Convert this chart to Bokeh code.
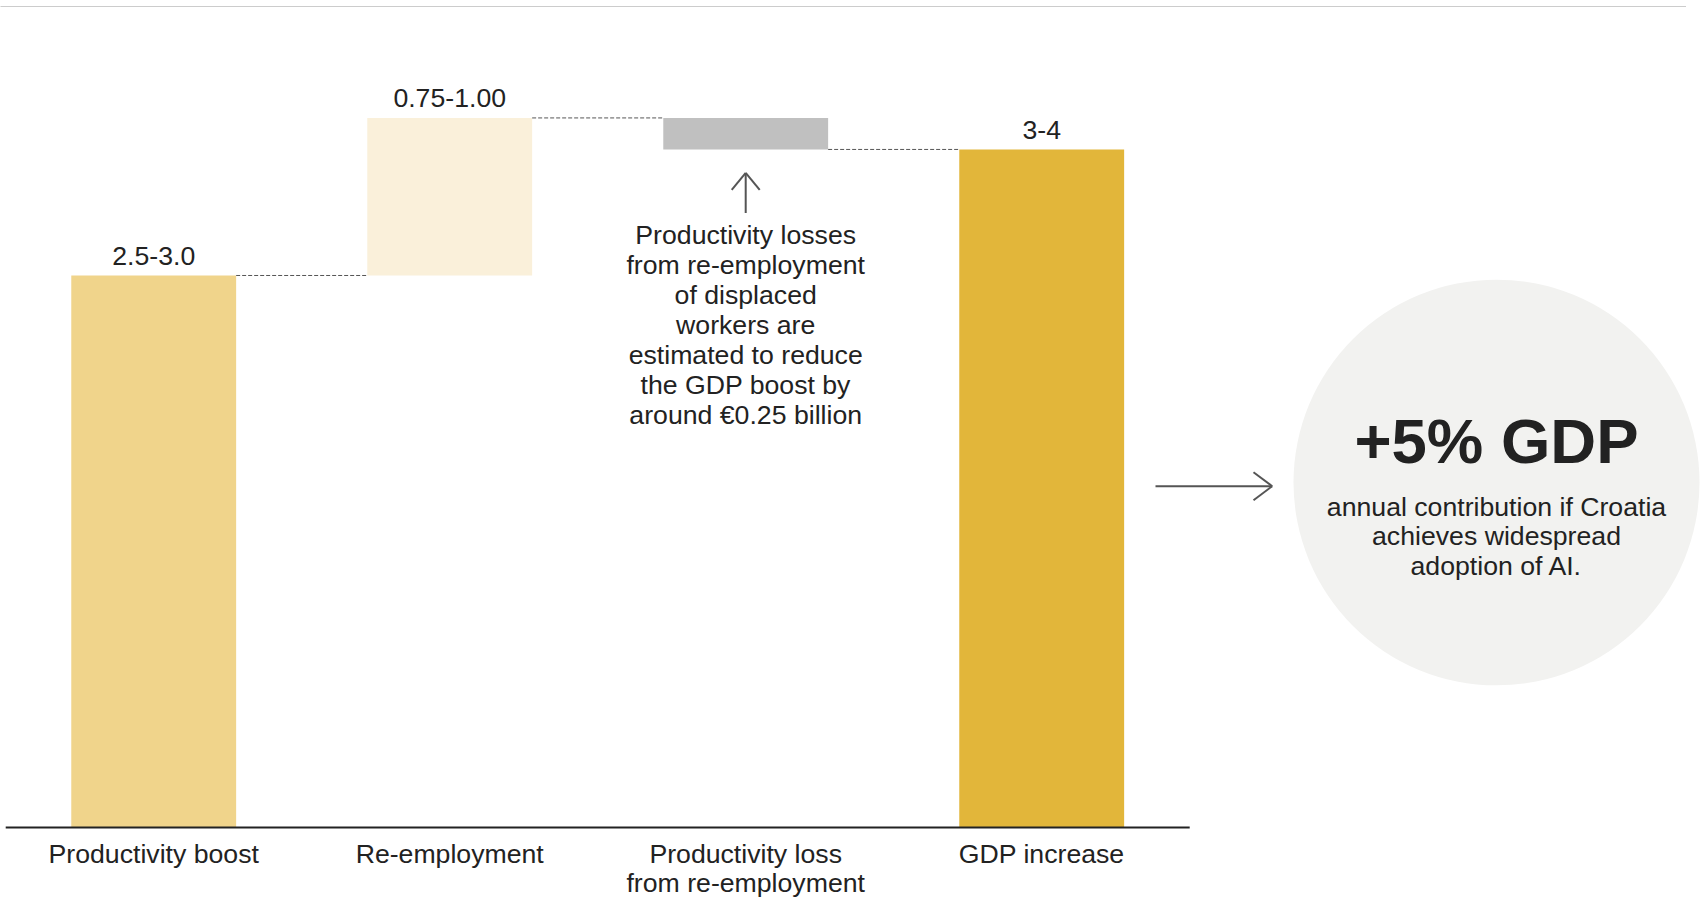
from bokeh.plotting import figure
from bokeh.models import Range1d, ColumnDataSource
from bokeh.core.properties import value
from bokeh.embed import file_html
from bokeh.resources import INLINE

# ---------------- data ----------------
categories = ["Productivity boost", "Re-employment",
              "Productivity loss\nfrom re-employment", "GDP increase"]
steps = [2.75, 0.785, -0.157]          # waterfall steps (€ billion)
value_labels = ["2.5-3.0", "0.75-1.00", "", "3-4"]
bar_colors = ["#F0D48B", "#FAF0DA", "#C0C0C0", "#E2B63A"]
note_lines = ["Productivity losses", "from re-employment", "of displaced",
              "workers are", "estimated to reduce", "the GDP boost by",
              "around €0.25 billion"]
headline = "+5% GDP"
sub_lines = ["annual contribution if Croatia", "achieves widespread",
             "adoption of AI."]

# ---------------- layout ----------------
W, H = 1704, 898
X_START, X_END = -0.5176, 5.2392
Y_START, Y_END = -0.3537, 4.1200
sx = W / (X_END - X_START)
sy = H / (Y_END - Y_START)


def dx(px):
    return px / sx


def dy(px):
    return px / sy


FONT = value("Liberation Sans")
FS = value("26.67px")
TXT = "#222222"
BAR_W = 0.557

# waterfall geometry
bottoms, tops, levels = [], [], []
run = 0.0
for s in steps:
    lo, hi = sorted([run, run + s])
    bottoms.append(lo)
    tops.append(hi)
    run += s
    levels.append(run)
total = run
bottoms.append(0.0)
tops.append(total)
xs = list(range(len(categories)))

p = figure(width=W, height=H, x_range=Range1d(X_START, X_END),
           y_range=Range1d(Y_START, Y_END), output_backend="svg",
           toolbar_location=None, min_border=0)
p.axis.visible = False
p.grid.visible = False
p.outline_line_color = None
p.background_fill_color = "white"

# top dotted rule
p.line([X_START, X_START + dx(1686)], [Y_END - dy(6)] * 2,
       line_color="#999999", line_width=1, line_dash="1 1")

# bars
src = ColumnDataSource(dict(x=xs, top=tops, bottom=bottoms, color=bar_colors))
p.vbar(x="x", width=BAR_W, top="top", bottom="bottom", fill_color="color",
       line_color=None, source=src)

# connectors
p.segment(x0=[i + BAR_W / 2 for i in range(3)],
          x1=[i + 1 - BAR_W / 2 for i in range(3)],
          y0=levels, y1=levels, line_color="#555555", line_width=1,
          line_dash="4 2")

# baseline
p.line([-0.5, len(categories) - 0.5], [0, 0], line_color="#222222", line_width=2)

# value labels
vl = [(i, tops[i], t) for i, t in enumerate(value_labels) if t]
p.text(x=[v[0] for v in vl], y=[v[1] for v in vl], text=[v[2] for v in vl],
       y_offset=-19.6, text_align="center", text_baseline="middle",
       text_font=FONT, text_font_size=FS, text_color=TXT)

# category labels
cx, cy, ct, co = [], [], [], []
for i, c in enumerate(categories):
    for j, line in enumerate(c.split("\n")):
        cx.append(i)
        cy.append(0)
        ct.append(line)
        co.append(26 + 29.4 * j)
p.text(x=cx, y=cy, text=ct, y_offset=co, text_align="center",
       text_baseline="middle", text_font=FONT, text_font_size=FS, text_color=TXT)

# annotation under the grey bar
p.text(x=[2] * len(note_lines), y=[bottoms[2]] * len(note_lines), text=note_lines,
       y_offset=[85.8 + 29.9 * j for j in range(len(note_lines))],
       text_align="center", text_baseline="middle", text_font=FONT,
       text_font_size=FS, text_color=TXT)

# up arrow
ARW = "#555555"
y_tip = bottoms[2] - dy(23.5)
y_tail = bottoms[2] - dy(63.5)
p.segment(x0=[2, 2, 2], y0=[y_tail, y_tip, y_tip],
          x1=[2, 2 - dx(14), 2 + dx(14)], y1=[y_tip, y_tip - dy(17), y_tip - dy(17)],
          line_color=ARW, line_width=2)

# circle
ccx, ccy = 4.5365, 1.7187
p.scatter([ccx], [ccy], marker="circle", size=406, fill_color="#F2F2F0",
          line_color=None)

# right arrow
ax0, ax1, ay = ccx - dx(341), ccx - dx(224.3), ccy - dy(3.7)
p.segment(x0=[ax0, ax1, ax1], y0=[ay, ay, ay],
          x1=[ax1, ax1 - dx(18.7), ax1 - dx(18.7)], y1=[ay, ay + dy(14), ay - dy(14)],
          line_color=ARW, line_width=2)

# headline text
p.text(x=[ccx], y=[ccy], text=[headline], y_offset=-42, text_align="center",
       text_baseline="middle", text_font=FONT, text_font_size=value("63.5px"),
       text_font_style="bold", text_color=TXT)
p.text(x=[ccx] * len(sub_lines), y=[ccy] * len(sub_lines), text=sub_lines,
       y_offset=[24.4 + 29.35 * j for j in range(len(sub_lines))],
       text_align="center", text_baseline="middle", text_font=FONT,
       text_font_size=FS, text_color=TXT)

open("out.html", "w").write(file_html(p, INLINE))
